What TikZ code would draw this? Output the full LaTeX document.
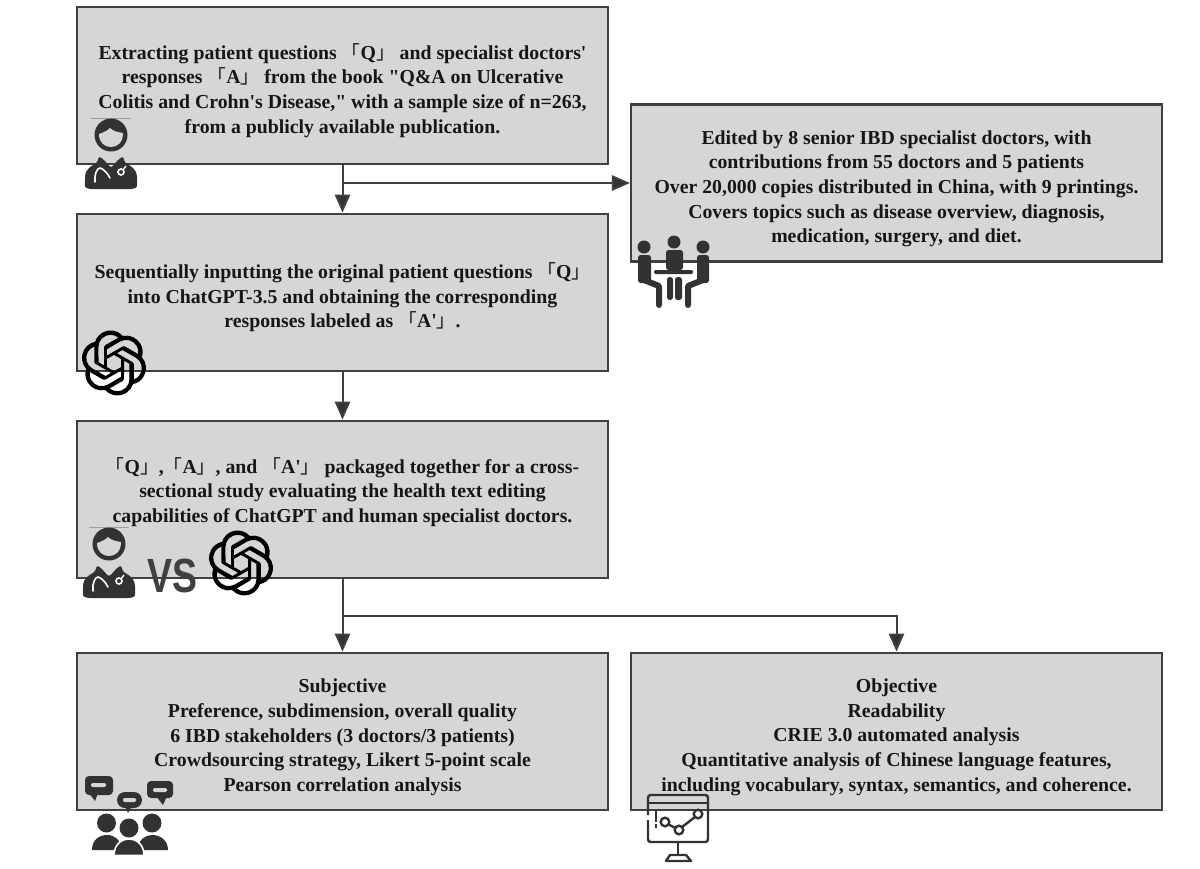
\documentclass[tikz,border=0pt]{standalone}
\usepackage{fontspec}
\setmainfont[Ligatures=TeXOff]{Liberation Serif}
\newfontfamily\cjk[Scale=0.95]{Noto Sans CJK SC}
\newfontfamily\vsfont{Liberation Sans}
\usetikzlibrary{arrows.meta}
\usetikzlibrary{calc}
\usetikzlibrary{positioning}
\usetikzlibrary{svg.path}
\definecolor{box-grey}{RGB}{214, 214, 214}
\definecolor{line-grey}{RGB}{64, 64, 64}
\definecolor{icon-grey}{RGB}{50, 50, 50}
\definecolor{text-grey}{RGB}{22, 22, 22}
\newcommand{\brk}[1]{{\mdseries\cjk 「}#1{\mdseries\cjk 」}}
\newcommand{\toppad}{\rule{0pt}{19pt}}
\newcommand{\botpad}{\rule[-14.5pt]{0pt}{0pt}}
\tikzset{
  stepbox/.style={draw=line-grey, fill=box-grey, line width=1.9pt, minimum width=398pt, minimum height=118pt,
    inner sep=0pt, align=center, text=text-grey, font=\fontsize{14.83}{18.5}\selectfont\bfseries},
  arr/.style={draw=line-grey, line width=1.5pt, -{Triangle[length=13.5pt,width=11.5pt,fill=icon-grey]}},
  plain/.style={draw=line-grey, line width=1.5pt},
  doctor/.pic={
    \draw[line-grey!50, line width=0.5pt] (-20,-17) -- (20,-17);
    \fill[icon-grey] (0,0) circle (16.5);
    \fill[box-grey] (-12,-1) .. controls (-6,-3) and (-3,-5) .. (-1,-7) .. controls (2,-4) and (6,-3) .. (12,-2)
      .. controls (12,8) and (6,12) .. (0,12) .. controls (-6,12) and (-12,8) .. (-12,-1) -- cycle;
    \fill[icon-grey, rounded corners=2pt] (-22,54) .. controls (-27,52) and (-26,47) .. (-26,44)
      .. controls (-26,35) and (-20,31) .. (-14,28) -- (-12,21) -- (-7,25) -- (0,33) -- (7,25) -- (12,21) -- (14,28)
      .. controls (20,31) and (26,35) .. (26,44) .. controls (26,47) and (27,52) .. (22,54) -- cycle;
    \draw[white, line width=1.2pt, line cap=round] (-16,47) .. controls (-17,40) and (-14,33) .. (-11,33)
      .. controls (-7,34) and (-3,39) .. (-1,43);
    \draw[white, line width=1.2pt] (10,37) circle (3);
    \draw[white, line width=1pt] (12,35) -- (15,31);
  },
  openai/.pic={
    \fill[black, scale=2.03, yscale=-1, xshift=-12pt, yshift=-12pt] svg {M 22.2819 9.8211 a 5.9847 5.9847 0 0 0 -0.5157 -4.9108 a 6.0462 6.0462 0 0 0 -6.5098 -2.9 A 6.0651 6.0651 0 0 0 4.9807 4.1818 a 5.9847 5.9847 0 0 0 -3.9977 2.9 a 6.0462 6.0462 0 0 0 0.7427 7.0966 a 5.98 5.98 0 0 0 0.511 4.9107 a 6.051 6.051 0 0 0 6.5146 2.9001 A 5.9847 5.9847 0 0 0 13.2599 24 a 6.0557 6.0557 0 0 0 5.7718 -4.2058 a 5.9894 5.9894 0 0 0 3.9977 -2.9001 a 6.0557 6.0557 0 0 0 -0.7475 -7.0729 z
      M 13.2599 22.4292 a 4.4755 4.4755 0 0 1 -2.8764 -1.0408 l 0.1419 -0.0804 l 4.7783 -2.7582 a 0.7948 0.7948 0 0 0 0.3927 -0.6813 v -6.7369 l 2.02 1.1686 v 5.6346 a 4.504 4.504 0 0 1 -4.4945 4.4944 z
      M 3.5992 18.3038 a 4.4708 4.4708 0 0 1 -0.5346 -3.0137 l 0.142 0.0852 l 4.783 2.7582 a 0.7712 0.7712 0 0 0 0.7806 0 l 5.8428 -3.3685 v 2.3324 l -4.873 2.8528 a 4.4992 4.4992 0 0 1 -6.1408 -1.6464 z
      M 2.3408 7.8956 a 4.485 4.485 0 0 1 2.3655 -1.9728 V 11.6 a 0.7664 0.7664 0 0 0 0.3879 0.6765 l 5.8144 3.3543 l -2.0201 1.1685 l -4.9013 -2.7865 A 4.504 4.504 0 0 1 2.3408 7.872 z
      M 18.9371 11.7514 L 13.1038 8.364 L 15.1192 7.2 l 4.9013 2.7913 a 4.4944 4.4944 0 0 1 -0.6765 8.1042 v -5.6772 a 0.79 0.79 0 0 0 -0.407 -0.667 z
      M 20.9478 8.7283 l -0.142 -0.0852 l -4.7735 -2.7818 a 0.7759 0.7759 0 0 0 -0.7854 0 L 9.409 9.2297 V 6.8974 l 4.8587 -2.8481 a 4.4992 4.4992 0 0 1 6.6802 4.66 z
      M 8.3065 12.863 l -2.02 -1.1638 l -0.038 -5.6255 a 4.4992 4.4992 0 0 1 7.3757 -3.4537 l -0.142 0.0805 L 8.704 5.459 a 0.7948 0.7948 0 0 0 -0.3927 0.6813 z
      M 9.4041 10.4976 l 2.602 -1.4998 l 2.6069 1.4998 v 2.9994 l -2.5974 1.4997 l -2.6099 -1.4997 z};
  },
  meeting/.pic={
    \fill[icon-grey] (0,0) circle (6.5) (-30,5) circle (6.5) (29,5) circle (6.5);
    \fill[icon-grey, rounded corners=2pt] (-8,8) rectangle (9,28);
    \fill[icon-grey, rounded corners=1pt] (-20,28) rectangle (19,32);
    \fill[icon-grey, rounded corners=2pt] (-7,35) rectangle (-1,58) (1,35) rectangle (8,58);
    \fill[icon-grey, rounded corners=2pt] (-36,13) rectangle (-23,41) (23,13) rectangle (35,41);
    \draw[icon-grey, line width=4.5pt, line cap=round, line join=round] (-30,38) -- (-15,44) -- (-15,63);
    \draw[icon-grey, line width=4.5pt, line cap=round, line join=round] (29,38) -- (14,44) -- (14,63);
  },
  crowd/.pic={
    % three speech bubbles
    \fill[icon-grey, rounded corners=3pt] (0,0) rectangle (28,19);
    \fill[icon-grey] (4,17) -- (10,25) -- (13,17) -- cycle;
    \fill[box-grey, rounded corners=1pt] (6,7) rectangle (21,11);
    \fill[icon-grey, rounded corners=6pt] (32,16) rectangle (57,32);
    \fill[icon-grey] (40,30) -- (43,37) -- (47,30) -- cycle;
    \fill[box-grey, rounded corners=1pt] (38,22) rectangle (51,26);
    \fill[icon-grey, rounded corners=3pt] (62,5) rectangle (88,22);
    \fill[icon-grey] (71,20) -- (78,29) -- (82,20) -- cycle;
    \fill[box-grey, rounded corners=1pt] (68,12) rectangle (82,16);
    % three people
    \fill[icon-grey] (21.5,47) circle (9.5) (67,47) circle (9.5) (44,52) circle (9.5);
    \fill[icon-grey] (7,74) .. controls (7,64) and (14,59) .. (22,59) .. controls (30,59) and (36,64) .. (36,74) -- cycle;
    \fill[icon-grey] (83,74) .. controls (83,64) and (75,59) .. (67,59) .. controls (60,59) and (53,64) .. (53,74) -- cycle;
    \filldraw[icon-grey, draw=white, line width=1.2pt] (29,79.5) .. controls (29,69) and (36,63) .. (44,63)
      .. controls (52,63) and (59,69) .. (59,79.5) -- cycle;
  },
  board/.pic={
    \draw[icon-grey, line width=1.8pt, rounded corners=2pt] (0,20) -- (0,0) -- (60,0) -- (60,47) -- (0,47) -- (0,25);
    \draw[icon-grey, line width=1.8pt] (0,8) -- (60,8);
    \draw[icon-grey, line width=1.8pt] (8,15) -- (8,27);
    \fill[icon-grey] (7,29) rectangle (9,33);
    \draw[icon-grey, line width=1.8pt] (17,27) circle (4.3) (31,35) circle (4.3) (50,19) circle (4.3);
    \draw[icon-grey, line width=1.8pt] (20.5,29.5) -- (27.5,33) (34,32) -- (47,22);
    \draw[icon-grey, line width=1.8pt] (30,47) -- (30,60);
    \draw[icon-grey, line width=1.8pt, line join=round] (18,66) -- (22,60) -- (38,60) -- (43,66) -- cycle;
  },
}
\begin{document}
\begin{tikzpicture}[x=0.75pt, y=-0.75pt]
\useasboundingbox (0,0) rectangle (1200,868);
\node[stepbox] (extract) at (342.5,85.5) {\toppad Extracting patient questions \brk{Q} and specialist doctors'\\
  responses \brk{A} from the book "Q\&A on Ulcerative\\
  Colitis and Crohn's Disease," with a sample size of n=263,\\
  from a publicly available publication.};
\node[stepbox] (edited) at (896.5,183) {\toppad Edited by 8 senior IBD specialist doctors, with\\
  contributions from 55 doctors and 5 patients\\
  Over 20,000 copies distributed in China, with 9 printings.\\
  Covers topics such as disease overview, diagnosis,\\
  medication, surgery, and diet.};
\node[stepbox] (input) at (342.5,292.5) {\toppad Sequentially inputting the original patient questions \brk{Q}\\
  into ChatGPT-3.5 and obtaining the corresponding\\
  responses labeled as \brk{A'}.};
\node[stepbox] (pack) at (342.5,499.5) {\brk{Q},\brk{A}, and \brk{A'} packaged together for a cross-\\
  sectional study evaluating the health text editing\\
  capabilities of ChatGPT and human specialist doctors.\botpad};
\node[stepbox] (subj) at (342.5,731.5) {\toppad Subjective\\
  Preference, subdimension, overall quality\\
  6 IBD stakeholders (3 doctors/3 patients)\\
  Crowdsourcing strategy, Likert 5-point scale\\
  Pearson correlation analysis};
\node[stepbox] (obj) at (896.5,731.5) {\toppad Objective\\
  Readability\\
  CRIE 3.0 automated analysis\\
  Quantitative analysis of Chinese language features,\\
  including vocabulary, syntax, semantics, and coherence.};
\coordinate (branch) at (extract.south |- edited.west);
\coordinate (split) at ($(pack.south)+(0,37)$);
\draw[arr] (extract) -- (input);
\draw[arr] (branch) -- (edited);
\draw[arr] (input) -- (pack);
\draw[plain] (pack.south) -- (split);
\draw[arr] (split) -- (subj);
\draw[arr] (split) -| (obj);
\pic at (111,135) {doctor};
\pic at (109,544) {doctor};
\pic at (114,363) {openai};
\pic at (241,563) {openai};
\pic at (674,242) {meeting};
\pic at (85,776) {crowd};
\pic at (648,795) {board};
\node[text=line-grey, font=\fontsize{36}{36}\vsfont\bfseries, xscale=0.78, inner sep=0pt] (versus) at (172,576) {VS};
\end{tikzpicture}
\end{document}
